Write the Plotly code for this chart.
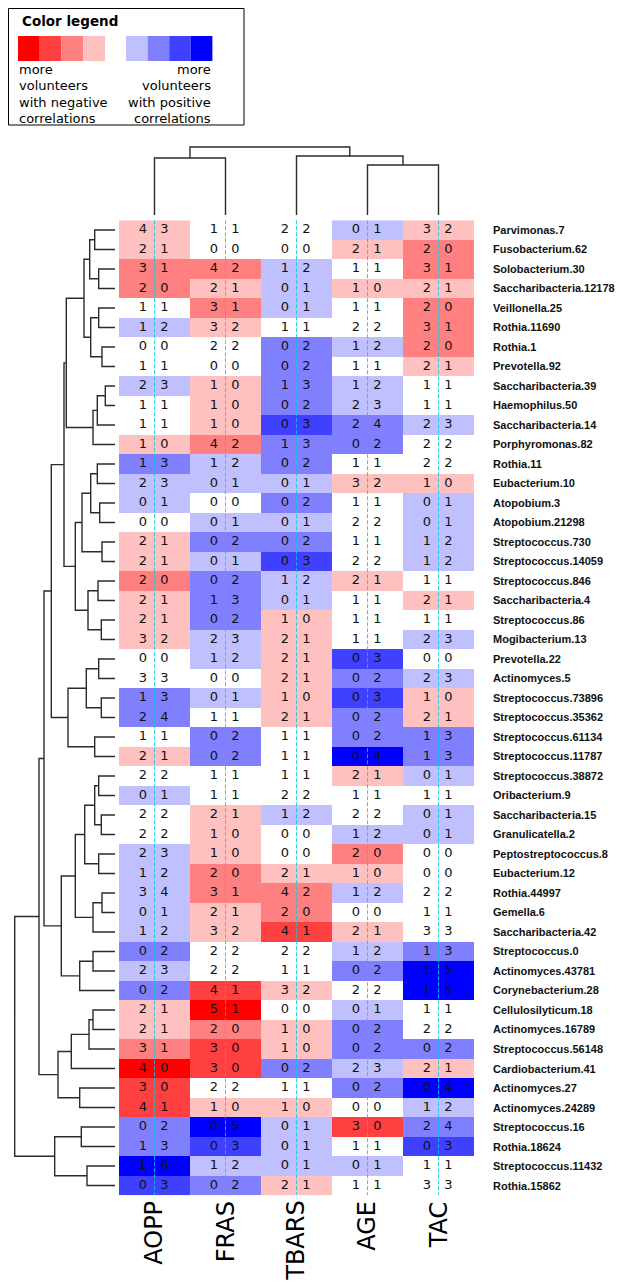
import plotly.graph_objects as go

# ---------------- data ----------------
rows = ["Parvimonas.7", "Fusobacterium.62", "Solobacterium.30", "Saccharibacteria.12178",
        "Veillonella.25", "Rothia.11690", "Rothia.1", "Prevotella.92", "Saccharibacteria.39",
        "Haemophilus.50", "Saccharibacteria.14", "Porphyromonas.82", "Rothia.11", "Eubacterium.10",
        "Atopobium.3", "Atopobium.21298", "Streptococcus.730", "Streptococcus.14059",
        "Streptococcus.846", "Saccharibacteria.4", "Streptococcus.86", "Mogibacterium.13",
        "Prevotella.22", "Actinomyces.5", "Streptococcus.73896", "Streptococcus.35362",
        "Streptococcus.61134", "Streptococcus.11787", "Streptococcus.38872", "Oribacterium.9",
        "Saccharibacteria.15", "Granulicatella.2", "Peptostreptococcus.8", "Eubacterium.12",
        "Rothia.44997", "Gemella.6", "Saccharibacteria.42", "Streptococcus.0",
        "Actinomyces.43781", "Corynebacterium.28", "Cellulosilyticum.18", "Actinomyces.16789",
        "Streptococcus.56148", "Cardiobacterium.41", "Actinomyces.27", "Actinomyces.24289",
        "Streptococcus.16", "Rothia.18624", "Streptococcus.11432", "Rothia.15862"]

columns = ["AOPP", "FRAS", "TBARS", "AGE", "TAC"]

# number of volunteers with negative / positive correlations (per column)
neg_AOPP = [4, 2, 3, 2, 1, 1, 0, 1, 2, 1, 1, 1, 1, 2, 0, 0, 2, 2, 2, 2, 2, 3, 0, 3, 1,
            2, 1, 2, 2, 0, 2, 2, 2, 1, 3, 0, 1, 0, 2, 0, 2, 2, 3, 4, 3, 4, 0, 1, 1, 0]
pos_AOPP = [3, 1, 1, 0, 1, 2, 0, 1, 3, 1, 1, 0, 3, 3, 1, 0, 1, 1, 0, 1, 1, 2, 0, 3, 3,
            4, 1, 1, 2, 1, 2, 2, 3, 2, 4, 1, 2, 2, 3, 2, 1, 1, 1, 0, 0, 1, 2, 3, 6, 3]
neg_FRAS = [1, 0, 4, 2, 3, 3, 2, 0, 1, 1, 1, 4, 1, 0, 0, 0, 0, 0, 0, 1, 0, 2, 1, 0, 0,
            1, 0, 0, 1, 1, 2, 1, 1, 2, 3, 2, 3, 2, 2, 4, 5, 2, 3, 3, 2, 1, 0, 0, 1, 0]
pos_FRAS = [1, 0, 2, 1, 1, 2, 2, 0, 0, 0, 0, 2, 2, 1, 0, 1, 2, 1, 2, 3, 2, 3, 2, 0, 1,
            1, 2, 2, 1, 1, 1, 0, 0, 0, 1, 1, 2, 2, 2, 1, 1, 0, 0, 0, 2, 0, 5, 3, 2, 2]
neg_TBARS = [2, 0, 1, 0, 0, 1, 0, 0, 1, 0, 0, 1, 0, 0, 0, 0, 0, 0, 1, 0, 1, 2, 2, 2, 1,
             2, 1, 1, 1, 2, 1, 0, 0, 2, 4, 2, 4, 2, 1, 3, 0, 1, 1, 0, 1, 1, 0, 0, 0, 2]
pos_TBARS = [2, 0, 2, 1, 1, 1, 2, 2, 3, 2, 3, 3, 2, 1, 2, 1, 2, 3, 2, 1, 0, 1, 1, 1, 0,
             1, 1, 1, 1, 2, 2, 0, 0, 1, 2, 0, 1, 2, 1, 2, 0, 0, 0, 2, 1, 0, 1, 1, 1, 1]
neg_AGE = [0, 2, 1, 1, 1, 2, 1, 1, 1, 2, 2, 0, 1, 3, 1, 2, 1, 2, 2, 1, 1, 1, 0, 0, 0,
           0, 0, 0, 2, 1, 2, 1, 2, 1, 1, 0, 2, 1, 0, 2, 0, 0, 0, 2, 0, 0, 3, 1, 0, 1]
pos_AGE = [1, 1, 1, 0, 1, 2, 2, 1, 2, 3, 4, 2, 1, 2, 1, 2, 1, 2, 1, 1, 1, 1, 3, 2, 3,
           2, 2, 4, 1, 1, 2, 2, 0, 0, 2, 0, 1, 2, 2, 2, 1, 2, 2, 3, 2, 0, 0, 1, 1, 1]
neg_TAC = [3, 2, 3, 2, 2, 3, 2, 2, 1, 1, 2, 2, 2, 1, 0, 0, 1, 1, 1, 2, 1, 2, 0, 2, 1,
           2, 1, 1, 0, 1, 0, 0, 0, 0, 2, 1, 3, 1, 1, 1, 1, 2, 0, 2, 0, 1, 2, 0, 1, 3]
pos_TAC = [2, 0, 1, 1, 0, 1, 0, 1, 1, 1, 3, 2, 2, 0, 1, 1, 2, 2, 1, 1, 1, 3, 0, 3, 0,
           1, 3, 3, 1, 1, 1, 1, 0, 0, 2, 1, 3, 3, 5, 5, 1, 2, 2, 1, 4, 2, 4, 3, 1, 3]

neg_counts = [neg_AOPP, neg_FRAS, neg_TBARS, neg_AGE, neg_TAC]
pos_counts = [pos_AOPP, pos_FRAS, pos_TBARS, pos_AGE, pos_TAC]

# dendrograms: (merge height, left, right); ints are leaf indices
row_tree = (100.3,
            (76.0,
             (71.0,
              (63.7,
               (51.0,
                (48.7,
                 (31.0,
                  (25.3, (20.3, 0, 1), (16.3, 2, 3)),
                  (24.3, (16.3, 4, 5), (13.0, 6, 7))),
                 (22.0, (17.7, (9.7, 8, 9), 10), 11)),
                (39.7,
                 (33.0,
                  (24.3, (17.7, 12, 13), (15.3, 14, 15)),
                  (13.0, 16, 17)),
                 (27.0, (17.0, 18, 19), (13.7, 20, 21)))),
               (47.0,
                (28.7, (16.3, 22, 23), (13.7, 24, 25)),
                (20.3, 26, 27))),
              (53.7,
               (39.7,
                (30.3,
                 (20.3, (16.3, 28, 29), (13.7, 30, 31)),
                 (16.3, 32, 33)),
                (22.0, (13.0, 34, 35), 36)),
               (35.3, (22.0, 37, 38), 39))),
             (57.0,
              (43.7, (26.0, (22.0, 40, 41), 42), 43),
              (35.3, 44, 45))),
            (60.3, (33.7, 46, 47), (28.0, 48, 49)))

col_tree = (68.0, (57.0, 0, 1), (59.0, 2, (50.0, 3, 4)))

legend_reds = ["#ff0000", "#ff4040", "#ff8080", "#ffc0c0"]
legend_blues = ["#c0c0ff", "#8080ff", "#4040ff", "#0000ff"]
level_colors = legend_reds + ["#ffffff"] + legend_blues   # levels -4 .. +4

# ---------------- layout helpers ----------------
W, H = 634, 1287
def fx(p):
    return p / W
def fy(p):
    return 1 - p / H

HM_L, HM_R = 111, 466
ROW0, ROWH = 222.0, 19.5
n_rows, n_cols = len(rows), len(columns)
HM_T = ROW0 - ROWH / 2
HM_B = ROW0 + ROWH * (n_rows - 0.5)

fig = go.Figure()

# heatmap of (positive - negative) levels
z = [[max(-4, min(4, pos_counts[j][i] - neg_counts[j][i])) for j in range(n_cols)]
     for i in range(n_rows)]
cs = []
for k, c in enumerate(level_colors):
    cs.append([k / 9, c])
    cs.append([(k + 1) / 9, c])
fig.add_trace(go.Heatmap(z=z, x=list(range(n_cols)), y=list(range(n_rows)),
                         zmin=-4.5, zmax=4.5, colorscale=cs, showscale=False,
                         hoverinfo="skip", xaxis="x", yaxis="y"))

# dashed centre lines
for j in range(n_cols):
    fig.add_trace(go.Scatter(x=[j, j], y=[-0.5, n_rows - 0.5], mode="lines",
                             line=dict(color="rgba(0,205,230,0.85)", width=1, dash="4px,2px"),
                             hoverinfo="skip", showlegend=False, xaxis="x", yaxis="y"))

# numbers
tx, ty, tt = [], [], []
for j in range(n_cols):
    for i in range(n_rows):
        tx += [j - 0.165, j + 0.14]
        ty += [i, i]
        tt += [str(neg_counts[j][i]), str(pos_counts[j][i])]
fig.add_trace(go.Scatter(x=tx, y=ty, text=tt, mode="text",
                         textfont=dict(family="DejaVu Sans", size=13, color="#111"),
                         hoverinfo="skip", showlegend=False, xaxis="x", yaxis="y"))

# dendrogram segments
def walk(node, segs, leaf_pos):
    if isinstance(node, int):
        return leaf_pos(node), 0.0
    h, a, b = node
    pa, ha = walk(a, segs, leaf_pos)
    pb, hb = walk(b, segs, leaf_pos)
    segs.append(((pa, ha), (pa, h), (pb, h), (pb, hb)))
    return (pa + pb) / 2, h

segs = []
walk(row_tree, segs, lambda i: i)
rx, ry = [], []
for s in segs:
    for (p, h) in s:
        rx.append(h); ry.append(p)
    rx.append(None); ry.append(None)
fig.add_trace(go.Scatter(x=rx, y=ry, mode="lines", line=dict(color="#2b2b2b", width=1.4),
                         hoverinfo="skip", showlegend=False, xaxis="x2", yaxis="y2"))

segs = []
walk(col_tree, segs, lambda j: j)
cx, cy = [], []
for s in segs:
    for (p, h) in s:
        cx.append(p); cy.append(h)
    cx.append(None); cy.append(None)
fig.add_trace(go.Scatter(x=cx, y=cy, mode="lines", line=dict(color="#2b2b2b", width=1.4),
                         hoverinfo="skip", showlegend=False, xaxis="x3", yaxis="y3"))

ann = []
# row labels
for i, r in enumerate(rows):
    ann.append(dict(x=fx(483), y=i, xref="paper", yref="y", text="<b>" + r + "</b>",
                    showarrow=False, xanchor="left", yanchor="middle",
                    font=dict(family="Liberation Sans", size=11, color="#111")))
# column labels
for j, c in enumerate(columns):
    ann.append(dict(x=j, y=fy(HM_B + 4), xref="x", yref="paper", text=c, textangle=-90,
                    showarrow=False, xanchor="center", yanchor="top",
                    font=dict(family="DejaVu Sans", size=24, color="#000")))

# colour legend
shapes = [dict(type="rect", xref="paper", yref="paper", x0=fx(0.5), x1=fx(236),
               y0=fy(0.5), y1=fy(117), line=dict(color="#000", width=1), fillcolor="white")]
for k, c in enumerate(legend_reds):
    shapes.append(dict(type="rect", xref="paper", yref="paper",
                       x0=fx(10 + k * 21.75), x1=fx(10 + (k + 1) * 21.75),
                       y0=fy(28), y1=fy(53), line=dict(width=0), fillcolor=c))
for k, c in enumerate(legend_blues):
    shapes.append(dict(type="rect", xref="paper", yref="paper",
                       x0=fx(118 + k * 21.6), x1=fx(118 + (k + 1) * 21.6),
                       y0=fy(28), y1=fy(53), line=dict(width=0), fillcolor=c))
ann.append(dict(x=fx(12), y=fy(13), xref="paper", yref="paper", text="<b>Color legend</b>",
                showarrow=False, xanchor="left", yanchor="middle",
                font=dict(family="DejaVu Sans", size=13.5, color="#000")))
left_lines = ["more", "volunteers", "with negative", "correlations"]
right_lines = ["more", "volunteers", "with positive", "correlations"]
for k in range(4):
    yy = fy(62 + 16 * k)
    ann.append(dict(x=fx(9), y=yy, xref="paper", yref="paper", text=left_lines[k],
                    showarrow=False, xanchor="left", yanchor="middle",
                    font=dict(family="DejaVu Sans", size=13, color="#000")))
    ann.append(dict(x=fx(205), y=yy, xref="paper", yref="paper", text=right_lines[k],
                    showarrow=False, xanchor="right", yanchor="middle",
                    font=dict(family="DejaVu Sans", size=13, color="#000")))

noax = dict(visible=False, showgrid=False, zeroline=False, fixedrange=True)
fig.update_layout(
    width=W, height=H, margin=dict(l=0, r=0, t=0, b=0),
    paper_bgcolor="white", plot_bgcolor="rgba(0,0,0,0)", showlegend=False,
    xaxis=dict(domain=[fx(HM_L), fx(HM_R)], range=[-0.5, n_cols - 0.5], **noax),
    yaxis=dict(domain=[fy(HM_B), fy(HM_T)], range=[n_rows - 0.5, -0.5], **noax),
    xaxis2=dict(domain=[0, fx(HM_L)], range=[107, -4], anchor="y2", **noax),
    yaxis2=dict(domain=[fy(HM_B), fy(HM_T)], range=[n_rows - 0.5, -0.5], anchor="x2", **noax),
    xaxis3=dict(domain=[fx(HM_L), fx(HM_R)], range=[-0.5, n_cols - 0.5], anchor="y3", **noax),
    yaxis3=dict(domain=[fy(207), fy(130)], range=[0, 77], anchor="x3", **noax),
    shapes=shapes, annotations=ann,
)

fig.write_html("out.html")
